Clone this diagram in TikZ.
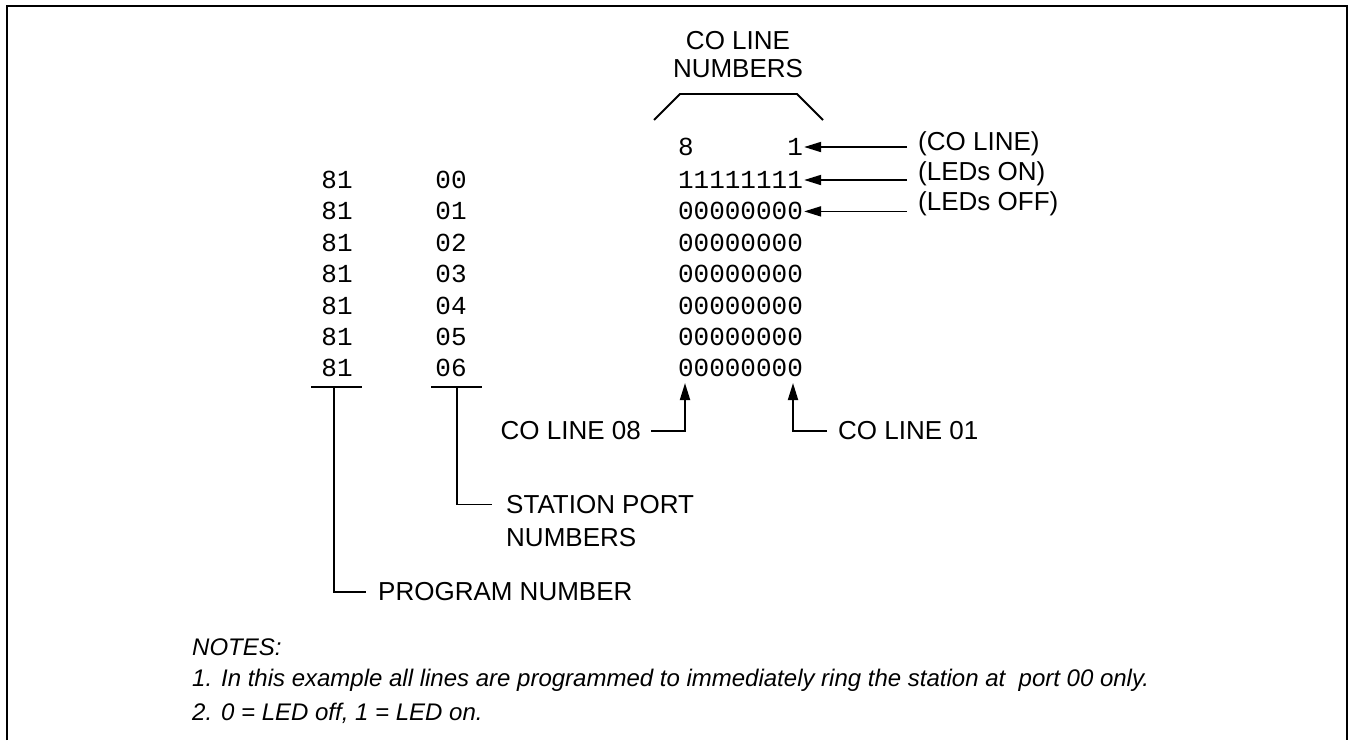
\documentclass[tikz,border=0pt]{standalone}
\usepackage{fontspec}
\setmainfont{Liberation Sans}
\setmonofont{Liberation Mono}
\usetikzlibrary{arrows.meta,calc}
\begin{document}
\begin{tikzpicture}[x=1pt,y=-1pt,
  lab/.style={font=\fontsize{26}{28}\selectfont, inner sep=0pt},
  mono/.style={font=\ttfamily\fontsize{26}{28}\selectfont, inner sep=0pt},
  note/.style={font=\itshape\fontsize{24}{33}\selectfont, inner sep=0pt, anchor=west},
  ln/.style={line width=1.8pt},
  arr/.style={line width=1.8pt, -{Triangle[length=17pt,width=10pt]}},
]
\useasboundingbox (0,0) rectangle (1349,740);
\draw[line width=2.4pt] (7,740) -- (7,6) -- (1347,6) -- (1347,740);

% data rows
\foreach \i/\s/\b in {0/00/11111111,1/01/00000000,2/02/00000000,3/03/00000000,4/04/00000000,5/05/00000000,6/06/00000000}{
  \node[mono] (p\i) at (337,{180+31.4*\i}) {81};
  \node[mono] (s\i) at (451,{180+31.4*\i}) {\s};
  \node[mono] (b\i) at (740.5,{180+31.4*\i}) {\b};
}
\node[mono, anchor=west] (h8) at ($(b0.west)+(0,-33)$) {8};
\node[mono, anchor=east] (h1) at ($(b0.east)+(0,-33)$) {1};

% top label and bracket
\node[lab, align=center, font=\fontsize{26}{28}\selectfont] (top) at (738,55) {CO LINE\\NUMBERS};
\coordinate (k1) at (654,120);
\coordinate (k2) at (680,94);
\coordinate (k3) at (797,94);
\coordinate (k4) at (823,120);
\draw[ln] (k1) -- (k2) -- (k3) -- (k4);

% right labels
\node[lab, anchor=west] (l1) at (918,144) {(CO LINE)};
\node[lab, anchor=west] (l2) at (918,174) {(LEDs ON)};
\node[lab, anchor=west] (l3) at (918,204) {(LEDs OFF)};
\draw[arr] ($(h1.east -| l1.west)+(-11,0)$) -- ($(h1.east)+(1,0)$);
\draw[arr] ($(b0.east -| l2.west)+(-11,0)$) -- ($(b0.east)+(1,0)$);
\draw[arr] ($(b1.east -| l3.west)+(-11,0)$) -- ($(b1.east)+(1,0)$);

% bottom CO line arrows
\coordinate (c8) at (685,383);
\coordinate (c1) at (793,383);
\node[lab, anchor=east] (t08) at (641,431) {CO LINE 08};
\node[lab, anchor=west] (t01) at (838,431) {CO LINE 01};
\draw[arr] ($(t08.east)+(10,0)$) -| (c8);
\draw[arr] ($(t01.west)+(-11,0)$) -| (c1);

% program number bracket
\coordinate (u1l) at (311,387);
\coordinate (u1r) at (362,387);
\coordinate (u1m) at (334,387);
\draw[ln] (u1l) -- (u1r);
\node[lab, anchor=west] (pn) at (378,592) {PROGRAM NUMBER};
\draw[ln] (u1m) |- ($(pn.west)+(-12,0)$);

% station port bracket
\coordinate (u2l) at (431,387);
\coordinate (u2r) at (482,387);
\coordinate (u2m) at (457,387);
\draw[ln] (u2l) -- (u2r);
\node[lab, anchor=north west, align=left, font=\fontsize{26}{33}\selectfont] (sp) at (506,495) {STATION PORT\\NUMBERS};
\draw[ln] (u2m) |- ($(sp.north west)+(-14,9.5)$);

% notes
\node[note] (n0) at (192,647) {NOTES:};
\node[note] (n1) at (192,680) {1. In this example all lines are programmed to immediately ring the station at\ \ port 00 only.};
\node[note] (n2) at (192,713) {2. 0 = LED off, 1 = LED on.};
\end{tikzpicture}
\end{document}
